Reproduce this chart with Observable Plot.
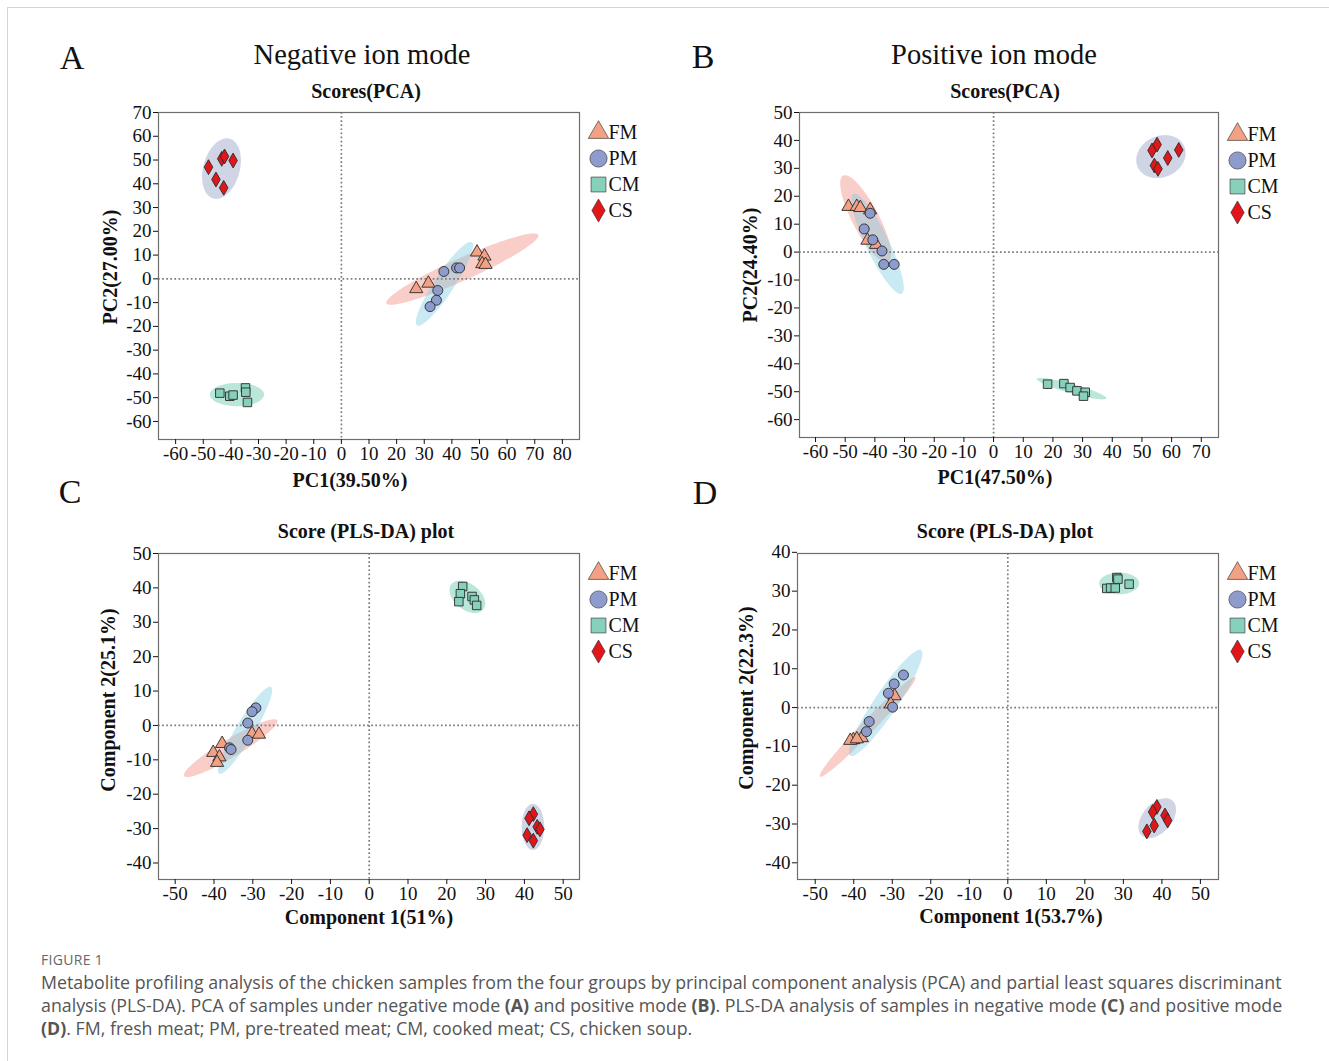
<!DOCTYPE html>
<html><head><meta charset="utf-8">
<script src="https://cdn.jsdelivr.net/npm/d3@7"></script>
<script src="https://cdn.jsdelivr.net/npm/@observablehq/plot@0.6"></script>
<style>
html,body{margin:0;padding:0;background:#fff;}
body{width:1329px;height:1061px;position:relative;overflow:hidden;font-family:"Liberation Serif",serif;color:#111;}
.t{position:absolute;white-space:nowrap;transform:translate(-50%,-50%);line-height:1;}
.border{position:absolute;left:7px;top:7px;width:1340px;height:1100px;border-top:1px solid #d4d4d4;border-left:1px solid #d4d4d4;}
.cap{position:absolute;left:41px;font-family:"Open Sans",sans-serif;color:#555;white-space:nowrap;}
</style></head><body>
<div class="border"></div>
<script>
// ---------- data ----------
const groups = ["FM","PM","CM","CS"];
const groupFill = ["#f2a184","#8d9ccc","#86d0bc","#e0161b"];
const groupSymbol = ["triangle","circle","square","diamond"];
const ellipseFill = ["#f08a7e","#7fcbe3","#5cc4a6","#8f9bc0"];

// Panel A: PCA, negative ion mode (rows: FM, PM, CM, CS)
const pcaNegPC1 = [
  [27.1, 31.5, 49.1, 51.8, 51.0, 52.2],
  [37.1, 41.7, 42.8, 34.9, 34.4, 32.1],
  [-44.0, -40.4, -39.2, -34.7, -34.6, -34.0],
  [-48.1, -43.3, -42.3, -39.2, -45.4, -42.6]
];
const pcaNegPC2 = [
  [-4.2, -1.9, 11.2, 9.5, 6.3, 6.0],
  [3.1, 4.6, 4.6, -4.9, -9.0, -11.7],
  [-48.1, -49.4, -48.9, -45.9, -47.7, -52.0],
  [47.0, 50.5, 51.5, 49.8, 41.8, 38.3]
];
// ellipse: centre x,y ; axis end x,y ; conjugate axis end x,y
const pcaNegEllipse = [
  [43.8, 4.1, 71.3, 18.5, 45.5, -0.2],
  [37.3, -2.1, 47.2, 15.4, 40.3, -4.4],
  [-37.8, -48.7, -28.0, -48.7, -37.8, -43.8],
  [-43.4, 46.4, -40.5, 59.0, -37.0, 44.5]
];
const pcaNegXTicks = [-60,-50,-40,-30,-20,-10,0,10,20,30,40,50,60,70,80];
const pcaNegYTicks = [-60,-50,-40,-30,-20,-10,0,10,20,30,40,50,60,70];

// Panel B: PCA, positive ion mode
const pcaPosPC1 = [
  [-48.9, -46.1, -44.9, -41.6, -42.5, -39.6],
  [-41.6, -43.6, -40.7, -37.6, -37.0, -33.5],
  [18.2, 23.7, 25.8, 28.1, 30.9, 30.3],
  [53.4, 55.1, 58.7, 62.4, 54.2, 55.4]
];
const pcaPosPC2 = [
  [16.3, 16.3, 15.9, 15.1, 4.2, 2.7],
  [13.9, 8.3, 4.4, 0.4, -4.4, -4.4],
  [-47.3, -47.1, -48.5, -49.7, -50.2, -51.6],
  [36.4, 38.5, 33.7, 36.6, 31.0, 29.8]
];
const pcaPosEllipse = [
  [-43.1, 11.9, -50.7, 27.4, -39.1, 14.1],
  [-39.1, 3.0, -31.0, -14.9, -35.6, 4.8],
  [26.3, -48.9, 38.0, -52.4, 25.8, -50.5],
  [56.4, 34.2, 64.2, 38.0, 59.3, 27.5]
];
const pcaPosXTicks = [-60,-50,-40,-30,-20,-10,0,10,20,30,40,50,60,70];
const pcaPosYTicks = [-60,-50,-40,-30,-20,-10,0,10,20,30,40,50];

// Panel C: PLS-DA, negative mode
const plsNegC1 = [
  [-37.9, -40.2, -38.6, -39.2, -30.2, -28.4],
  [-29.2, -30.2, -31.3, -31.3, -36.0, -35.6],
  [24.1, 23.5, 23.1, 26.5, 27.1, 27.7],
  [42.3, 41.2, 43.3, 44.0, 40.7, 42.3]
];
const plsNegC2 = [
  [-5.3, -7.9, -9.2, -10.8, -2.4, -2.6],
  [5.1, 4.0, 0.7, -4.3, -6.5, -7.0],
  [40.4, 38.3, 36.0, 37.5, 36.5, 34.9],
  [-25.8, -27.0, -29.5, -30.2, -31.9, -33.5]
];
const plsNegEllipse = [
  [-35.7, -6.6, -23.7, 1.5, -34.5, -8.9],
  [-32.0, -1.4, -25.3, 11.2, -30.0, -2.8],
  [25.3, 37.4, 29.4, 33.7, 23.2, 34.5],
  [42.2, -29.5, 42.2, -22.8, 45.1, -29.5]
];
const plsNegXTicks = [-50,-40,-30,-20,-10,0,10,20,30,40,50];
const plsNegYTicks = [-40,-30,-20,-10,0,10,20,30,40,50];

// Panel D: PLS-DA, positive mode
const plsPosC1 = [
  [-29.4, -30.4, -37.9, -40.1, -40.9, -39.2],
  [-27.1, -29.5, -31.0, -29.9, -36.0, -36.7],
  [28.3, 28.6, 25.7, 26.7, 27.9, 31.5],
  [38.7, 37.6, 40.8, 41.5, 38.0, 36.1]
];
const plsPosC2 = [
  [3.0, 0.9, -7.8, -8.3, -8.5, -8.1],
  [8.4, 6.1, 3.7, 0.1, -3.6, -6.2],
  [33.5, 33.1, 30.7, 30.8, 30.8, 31.8],
  [-25.6, -26.9, -27.8, -29.1, -30.4, -31.9]
];
const plsPosEllipse = [
  [-36.4, -5.0, -24.0, 7.8, -35.2, -6.2],
  [-31.7, 1.2, -22.5, 14.8, -29.2, -0.4],
  [28.9, 32.0, 34.1, 32.0, 28.9, 34.8],
  [38.8, -28.5, 42.8, -24.0, 41.6, -31.0]
];
const plsPosXTicks = [-50,-40,-30,-20,-10,0,10,20,30,40,50];
const plsPosYTicks = [-40,-30,-20,-10,0,10,20,30,40];

// ---------- drawing ----------
const dotR = [4.9, 5, 4.8, 4.5];
const legendR = [7.6, 8.6, 8.4, 7];
const serif = "'Liberation Serif', 'Times New Roman', serif";

function panel(cfg){
  const [fl, ft, fr, fb] = cfg.frame;
  const ML = 56, MR = 12, MT = 12, MB = 44;
  const pts = [];
  groups.forEach((g,k)=>cfg.xs[k].forEach((v,i)=>pts.push({g, x:v, y:cfg.ys[k][i]})));
  const ellMarks = groups.map((g,k)=>{
    const e = cfg.ell[k];
    const outline = d3.range(0, 97).map(j=>{
      const t = j/96*2*Math.PI, c = Math.cos(t), s = Math.sin(t);
      return {x: e[0] + c*(e[2]-e[0]) + s*(e[4]-e[0]), y: e[1] + c*(e[3]-e[1]) + s*(e[5]-e[1])};
    });
    return Plot.line(outline, {x:"x", y:"y", fill: ellipseFill[k], fillOpacity: 0.42, stroke: "none"});
  });
  const chart = Plot.plot({
    width: (fr-fl)+ML+MR, height: (fb-ft)+MT+MB,
    marginLeft: ML, marginRight: MR, marginTop: MT, marginBottom: MB,
    style: {fontFamily: serif, fontSize: "19px", color: "#111", background: "transparent", overflow: "visible"},
    x: {domain: cfg.xDomain}, y: {domain: cfg.yDomain},
    symbol: {domain: groups, range: groupSymbol},
    color: {domain: groups, range: groupFill},
    marks: [
      ...ellMarks,
      Plot.ruleX([0], {stroke: "#7c7c7c", strokeWidth: 1.7, strokeDasharray: "1.7,2.4"}),
      Plot.ruleY([0], {stroke: "#7c7c7c", strokeWidth: 1.7, strokeDasharray: "1.7,2.4"}),
      ...groups.map((g,k)=>Plot.dot(pts.filter(d=>d.g===g), {x:"x", y:"y", symbol:"g", fill:"g", stroke:"#2a2a2a", strokeWidth:0.9, r: dotR[k]})),
      Plot.frame({stroke: "#6e6e6e", strokeWidth: 1.2}),
      Plot.axisX({ticks: cfg.xTicks, tickFormat: d=>String(d), tickSize: 5, tickPadding: 2, fontSize: 19, label: null}),
      Plot.axisY({ticks: cfg.yTicks, tickFormat: d=>String(d), tickSize: 5, tickPadding: 2, fontSize: 19, label: null})
    ]
  });
  chart.style.position = "absolute";
  chart.style.left = (fl-ML)+"px";
  chart.style.top = (ft-MT)+"px";
  document.body.appendChild(chart);
}

function legend(left, top){
  const chart = Plot.plot({
    width: 70, height: 112, margin: 0,
    style: {fontFamily: serif, fontSize: "20px", color: "#111", background: "transparent", overflow: "visible"},
    y: {type: "point", domain: groups, range: [16, 96], padding: 0, axis: null},
    symbol: {domain: groups, range: groupSymbol},
    color: {domain: groups, range: groupFill},
    marks: [
      ...groups.map((g,k)=>Plot.dot([g], {y: d=>d, symbol: d=>d, fill: d=>d, stroke: "#2a2a2a", strokeWidth: 0.6, r: legendR[k], frameAnchor: "left", dx: 13})),
      Plot.text(groups, {y: d=>d, text: d=>d, frameAnchor: "left", dx: 23, textAnchor: "start", fontSize: 20, fill: "#111"})
    ]
  });
  chart.style.position = "absolute";
  chart.style.left = left+"px";
  chart.style.top = top+"px";
  document.body.appendChild(chart);
}

function txt(s, x, y, css, rot){
  const d = document.createElement("div");
  d.className = "t";
  d.textContent = s;
  d.style.left = x+"px"; d.style.top = y+"px";
  Object.assign(d.style, css || {});
  if (rot) d.style.transform = "translate(-50%,-50%) rotate(-90deg)";
  document.body.appendChild(d);
}

panel({frame:[158,112,579,439], xs:pcaNegPC1, ys:pcaNegPC2, ell:pcaNegEllipse, xDomain:[-66.2,86.2], yDomain:[-67.6,70], xTicks:pcaNegXTicks, yTicks:pcaNegYTicks});
panel({frame:[799,112,1218,437], xs:pcaPosPC1, ys:pcaPosPC2, ell:pcaPosEllipse, xDomain:[-65.4,75.8], yDomain:[-66.4,50], xTicks:pcaPosXTicks, yTicks:pcaPosYTicks});
panel({frame:[158,553,579,879], xs:plsNegC1, ys:plsNegC2, ell:plsNegEllipse, xDomain:[-54.3,54.2], yDomain:[-44.8,50], xTicks:plsNegXTicks, yTicks:plsNegYTicks});
panel({frame:[797,553,1218,879], xs:plsPosC1, ys:plsPosC2, ell:plsPosEllipse, xDomain:[-54.6,54.7], yDomain:[-44.3,39.7], xTicks:plsPosXTicks, yTicks:plsPosYTicks});

legend(585,115); legend(1224,117); legend(585,556); legend(1224,556);

const big = {fontSize:"34px"};
txt("A", 72, 58, big); txt("B", 703, 57, big); txt("C", 70, 492, big); txt("D", 705, 493, big);
const ttl = {fontSize:"28.5px"};
txt("Negative ion mode", 362, 55, ttl); txt("Positive ion mode", 994, 55, ttl);
const sub = {fontSize:"20px", fontWeight:"bold"};
txt("Scores(PCA)", 366, 91, sub); txt("Scores(PCA)", 1005, 91, sub);
txt("Score (PLS-DA) plot", 366, 531, sub); txt("Score (PLS-DA) plot", 1005, 531, sub);
txt("PC1(39.50%)", 350, 480, sub); txt("PC1(47.50%)", 995, 477, sub);
txt("Component 1(51%)", 369, 917, sub); txt("Component 1(53.7%)", 1011, 916, sub);
txt("PC2(27.00%)", 110, 267, sub, true); txt("PC2(24.40%)", 750, 265, sub, true);
txt("Component 2(25.1%)", 108, 700, sub, true); txt("Component 2(22.3%)", 746, 698, sub, true);

// caption
const fig = document.createElement("div");
fig.className = "cap"; fig.style.top = "950px"; fig.style.fontSize = "14px"; fig.style.letterSpacing = "0.3px"; fig.style.color = "#666";
fig.textContent = "FIGURE 1";
document.body.appendChild(fig);
const cap = document.createElement("div");
cap.className = "cap"; cap.style.top = "971px"; cap.style.fontSize = "17.8px"; cap.style.lineHeight = "23px";
cap.innerHTML = "Metabolite profiling analysis of the chicken samples from the four groups by principal component analysis (PCA) and partial least squares discriminant<br>analysis (PLS-DA). PCA of samples under negative mode <b>(A)</b> and positive mode <b>(B)</b>. PLS-DA analysis of samples in negative mode <b>(C)</b> and positive mode<br><b>(D)</b>. FM, fresh meat; PM, pre-treated meat; CM, cooked meat; CS, chicken soup.";
document.body.appendChild(cap);
</script>
</body></html>
